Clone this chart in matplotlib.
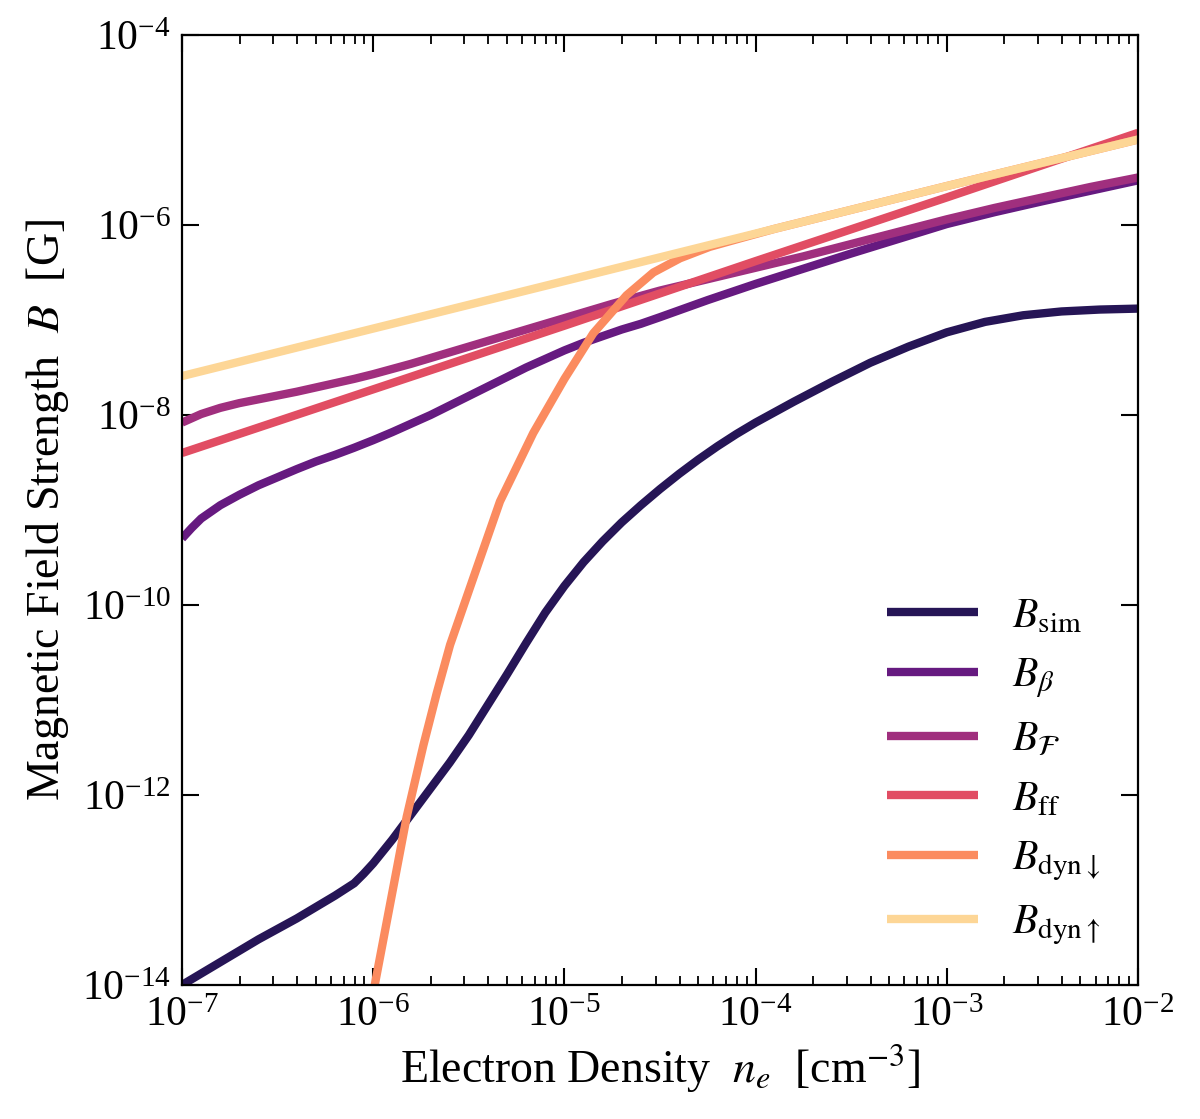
import numpy as np
import matplotlib
matplotlib.use("Agg")
import matplotlib.pyplot as plt
from matplotlib.ticker import LogLocator, NullLocator, LogFormatterMathtext, FixedLocator

plt.rcParams['font.family'] = 'serif'
plt.rcParams['font.serif'] = ['Liberation Serif', 'DejaVu Serif']
plt.rcParams['mathtext.fontset'] = 'stix'

# ---- data (log10 n_e, log10 B) ----
sim_logn = [-7.0, -6.8, -6.6, -6.4, -6.2, -6.1, -6.05, -6.0, -5.9, -5.8, -5.7, -5.6, -5.5,
            -5.4, -5.3, -5.2, -5.1, -5.0, -4.9, -4.8, -4.7, -4.6, -4.5, -4.4, -4.3, -4.2,
            -4.1, -4.0, -3.8, -3.6, -3.4, -3.2, -3.0, -2.8, -2.6, -2.4, -2.2, -2.0]
sim_logB = [-14.0, -13.76, -13.52, -13.30, -13.06, -12.93, -12.83, -12.72, -12.47, -12.20,
            -11.93, -11.66, -11.37, -11.05, -10.73, -10.40, -10.08, -9.80, -9.55, -9.33,
            -9.13, -8.95, -8.78, -8.62, -8.47, -8.33, -8.20, -8.08, -7.86, -7.65, -7.45,
            -7.28, -7.13, -7.02, -6.95, -6.91, -6.89, -6.88]

beta_logn = [-7.0, -6.95, -6.9, -6.8, -6.7, -6.6, -6.5, -6.4, -6.3, -6.2, -6.1, -6.0, -5.9,
             -5.8, -5.7, -5.6, -5.5, -5.4, -5.3, -5.2, -5.1, -5.0, -4.9, -4.8, -4.7, -4.6,
             -4.5, -4.25, -4.0, -3.75, -3.5, -3.25, -3.0, -2.75, -2.5, -2.25, -2.0]
beta_logB = [-9.30, -9.19, -9.09, -8.95, -8.84, -8.74, -8.655, -8.57, -8.49, -8.42, -8.345,
             -8.265, -8.18, -8.09, -8.00, -7.90, -7.80, -7.70, -7.60, -7.50, -7.41, -7.32,
             -7.24, -7.17, -7.10, -7.04, -6.97, -6.79, -6.62, -6.46, -6.30, -6.145, -5.99,
             -5.865, -5.75, -5.64, -5.53]

F_logn = [-7.0, -6.9, -6.8, -6.7, -6.6, -6.5, -6.4, -6.3, -6.2, -6.1, -6.0, -5.9, -5.8,
          -5.7, -5.6, -5.5, -5.4, -5.3, -5.2, -5.1, -5.0, -4.75, -4.5, -4.25, -4.0, -3.75,
          -3.5, -3.25, -3.0, -2.75, -2.5, -2.25, -2.0]
F_logB = [-8.08, -7.99, -7.925, -7.875, -7.835, -7.795, -7.755, -7.71, -7.665, -7.62, -7.57,
          -7.515, -7.46, -7.40, -7.34, -7.28, -7.22, -7.16, -7.10, -7.04, -6.98, -6.83,
          -6.69, -6.57, -6.45, -6.33, -6.20, -6.07, -5.94, -5.82, -5.71, -5.60, -5.50]

ff_logn = [-7.0, -6.0, -5.0, -4.0, -3.0, -2.0]
ff_logB = [-8.40, -7.73, -7.06, -6.38, -5.71, -5.03]

dyndown_logn = [-6.02, -5.992, -5.825, -5.738, -5.668, -5.598, -5.46, -5.337, -5.163, -5.0,
                -4.849, -4.675, -4.535, -4.395, -4.24, -4.08, -3.9, -3.0, -2.0]
dyndown_logB = [-14.3, -14.0, -12.23, -11.48, -10.93, -10.42, -9.62, -8.91, -8.19, -7.62,
                -7.14, -6.74, -6.50, -6.35, -6.23, -6.14, -6.04, -5.59, -5.10]

dynup_logn = [-7.0, -6.0, -5.0, -4.0, -3.0, -2.0]
dynup_logB = [-7.59, -7.09, -6.59, -6.09, -5.59, -5.10]

labels = [r'$B_{\rm sim}$', r'$B_{\beta}$', r'$B_{\mathcal{F}}$', r'$B_{\rm ff}$',
          r'$B_{\rm dyn\downarrow}$', r'$B_{\rm dyn\uparrow}$']
colors = ['#261556', '#661a80', '#a02f7e', '#e14d63', '#fb8b5f', '#fdd696']

series = [(sim_logn, sim_logB), (beta_logn, beta_logB), (F_logn, F_logB),
          (ff_logn, ff_logB), (dyndown_logn, dyndown_logB), (dynup_logn, dynup_logB)]

fig = plt.figure(figsize=(12, 11.19), dpi=100)
ax = fig.add_axes([0.1517, 0.1198, 0.7966, 0.8489])

for (lx, ly), lab, c in zip(series, labels, colors):
    ax.plot(10**np.array(lx), 10**np.array(ly), color=c, lw=6, label=lab,
            solid_capstyle='butt', solid_joinstyle='round')

ax.set_xscale('log')
ax.set_yscale('log')
ax.set_xlim(1e-7, 1e-2)
ax.set_ylim(1e-14, 1e-4)

ax.xaxis.set_major_locator(LogLocator(base=10, numticks=20))
ax.xaxis.set_minor_locator(LogLocator(base=10, subs=np.arange(2, 10), numticks=20))
ax.yaxis.set_major_locator(FixedLocator([1e-14, 1e-12, 1e-10, 1e-8, 1e-6, 1e-4]))
ax.yaxis.set_minor_locator(NullLocator())
ax.xaxis.set_major_formatter(LogFormatterMathtext())
ax.yaxis.set_major_formatter(LogFormatterMathtext())

ax.tick_params(which='both', direction='in', top=True, right=True)
ax.tick_params(which='major', length=12, width=1.5, labelsize=30, pad=8)
ax.tick_params(which='minor', length=6.5, width=1.3)
for s in ax.spines.values():
    s.set_linewidth(1.6)

ax.set_xlabel(r'Electron Density  $n_e$  [cm$^{-3}$]', fontsize=33, labelpad=6)
ax.set_ylabel(r'Magnetic Field Strength  $B$  [G]', fontsize=33, labelpad=8)

ax.legend(loc='lower right', frameon=False, fontsize=30, handlelength=2.2,
          labelspacing=0.5, borderaxespad=0.5)

fig.savefig('out.png', dpi=100)
